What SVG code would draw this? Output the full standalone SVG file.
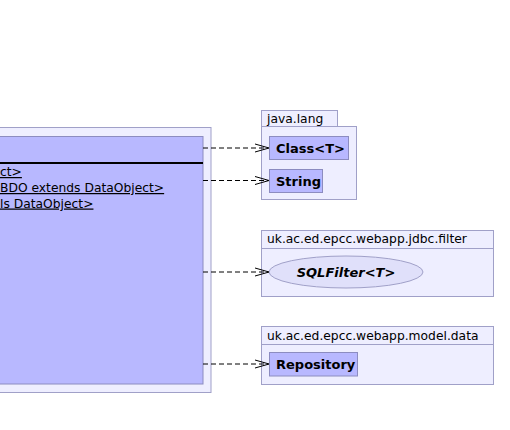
<svg xmlns="http://www.w3.org/2000/svg" width="510" height="430" viewBox="0 0 510 430">
  <style>
    text { font-family: "DejaVu Sans", "Liberation Sans", sans-serif; fill: #000; }
    .pkg { fill: #EEEEFF; stroke: #A0A0C8; stroke-width: 1; }
    .cls { fill: #B8B8FF; stroke: #8C8CC0; stroke-width: 1; }
    .pkgname { font-size: 12.3px; }
    .clsname { font-size: 13px; font-weight: bold; }
    .member { font-size: 12.3px; text-decoration: underline; }
    .dep { fill: none; stroke: #000; stroke-width: 1; stroke-dasharray: 5,3; }
    .head { fill: none; stroke: #000; stroke-width: 1; }
  </style>

  <!-- package holding the main class (extends past the left edge) -->
  <g id="pkg-main">
    <rect class="pkg" x="-20" y="127.5" width="231" height="265"/>
  </g>

  <!-- main class -->
  <g id="main-class">
    <rect class="cls" x="-20" y="136.5" width="223" height="247.5"/>
    <line x1="-20" y1="163" x2="203" y2="163" stroke="#000" stroke-width="2"/>
    <text class="member" x="0" y="176">ct&gt;</text>
    <text class="member" x="0" y="192">BDO extends DataObject&gt;</text>
    <text class="member" x="0" y="207.5">ls DataObject&gt;</text>
  </g>

  <!-- java.lang -->
  <g id="pkg-java-lang">
    <rect class="pkg" x="261.5" y="110.5" width="76" height="16"/>
    <rect class="pkg" x="261.5" y="126.5" width="95" height="73"/>
    <text class="pkgname" x="267" y="123">java.lang</text>
  </g>
  <g id="class-Class">
    <rect class="cls" x="269.5" y="136.5" width="79" height="23"/>
    <text class="clsname" x="276" y="152.5">Class&lt;T&gt;</text>
  </g>
  <g id="class-String">
    <rect class="cls" x="269.5" y="169.5" width="53" height="23"/>
    <text class="clsname" x="276" y="185.5">String</text>
  </g>

  <!-- uk.ac.ed.epcc.webapp.jdbc.filter -->
  <g id="pkg-jdbc-filter">
    <rect class="pkg" x="261.5" y="230.5" width="232" height="66"/>
    <line x1="261.5" y1="248.5" x2="493.5" y2="248.5" stroke="#A0A0C8"/>
    <text class="pkgname" x="267" y="243">uk.ac.ed.epcc.webapp.jdbc.filter</text>
  </g>
  <g id="iface-SQLFilter">
    <ellipse cx="346" cy="272" rx="77" ry="16" fill="#E0E0FA" stroke="#A0A0C8"/>
    <text class="clsname" x="346" y="276.5" text-anchor="middle" font-style="italic">SQLFilter&lt;T&gt;</text>
  </g>

  <!-- uk.ac.ed.epcc.webapp.model.data -->
  <g id="pkg-model-data">
    <rect class="pkg" x="261.5" y="326.5" width="232" height="58"/>
    <line x1="261.5" y1="344.5" x2="493.5" y2="344.5" stroke="#A0A0C8"/>
    <text class="pkgname" x="267" y="339.5">uk.ac.ed.epcc.webapp.model.data</text>
  </g>
  <g id="class-Repository">
    <rect class="cls" x="269.5" y="352.5" width="88" height="23.5"/>
    <text class="clsname" x="276" y="368.5">Repository</text>
  </g>

  <!-- dependency connectors -->
  <g id="connectors">
    <line class="dep" x1="203" y1="148" x2="268" y2="148"/>
    <polyline class="head" points="255,144 269,148 255,152"/>
    <line class="dep" x1="203" y1="180.5" x2="268" y2="180.5"/>
    <polyline class="head" points="255,176.5 269,180.5 255,184.5"/>
    <line class="dep" x1="203" y1="272" x2="268" y2="272"/>
    <polyline class="head" points="255,268 269,272 255,276"/>
    <line class="dep" x1="203" y1="364" x2="268" y2="364"/>
    <polyline class="head" points="255,360 269,364 255,368"/>
  </g>
</svg>
